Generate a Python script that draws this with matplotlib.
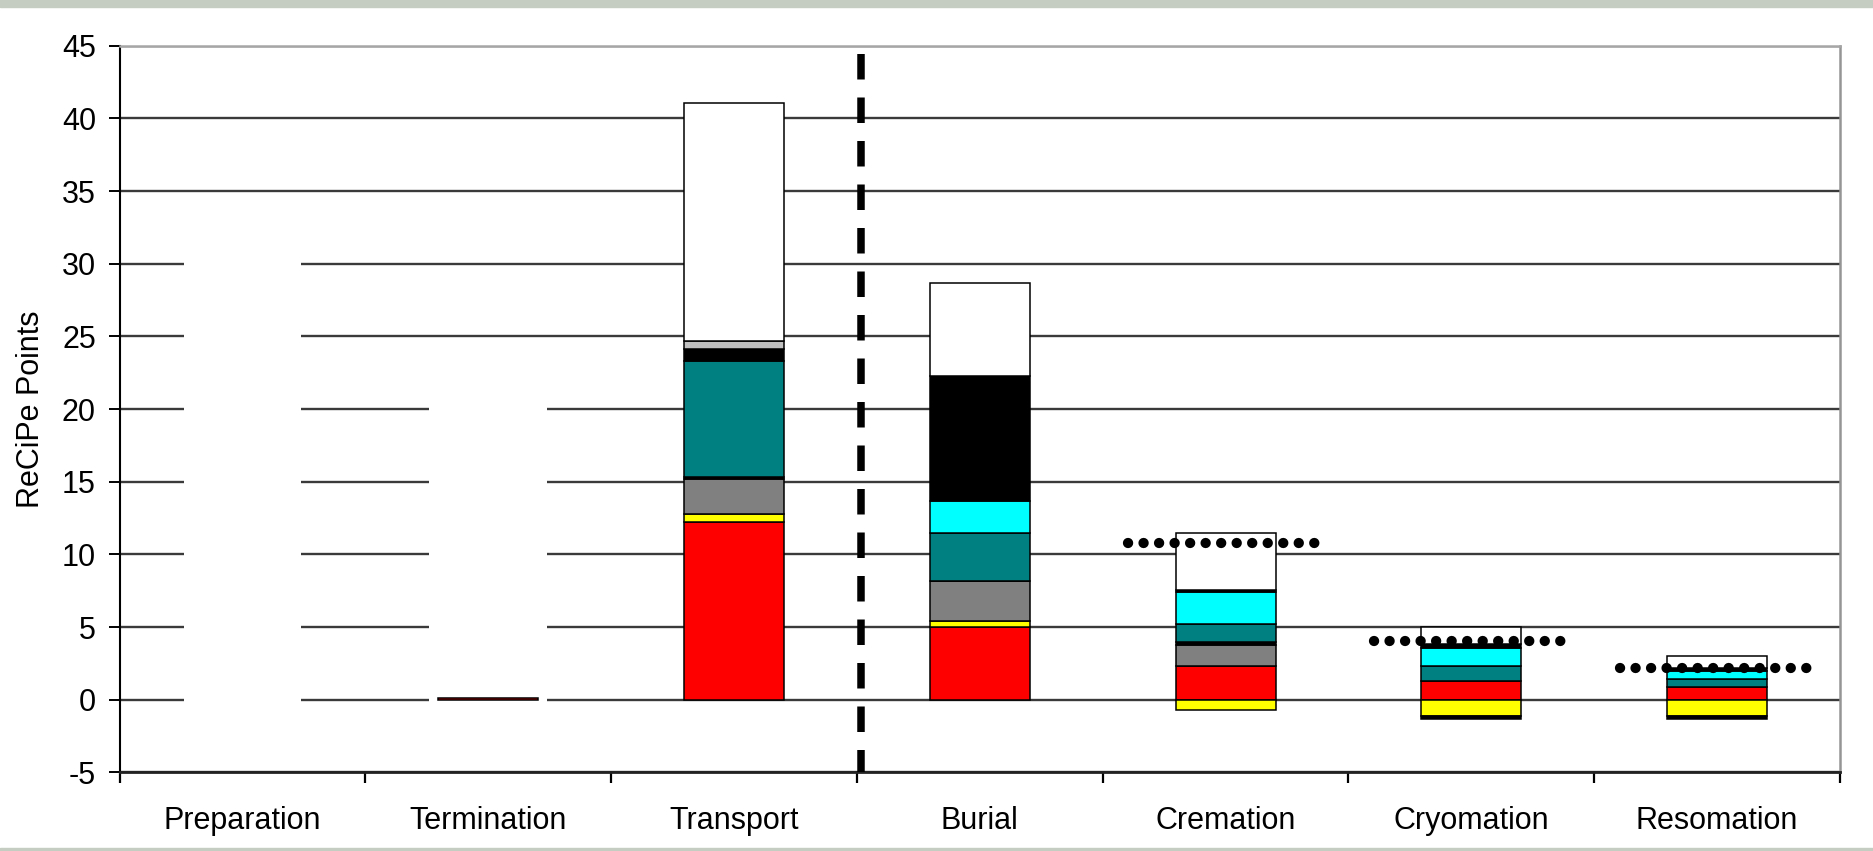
import numpy as np
import matplotlib
matplotlib.use("Agg")
import matplotlib.pyplot as plt
from matplotlib.patches import Rectangle

plt.rcParams['font.family'] = ['Liberation Sans', 'DejaVu Sans']
plt.rcParams['axes.unicode_minus'] = False

# -------------- DADOS --------------
categorias = ['Preparation', 'Termination', 'Transport', 'Burial',
              'Cremation', 'Cryomation', 'Resomation']

# segmentos empilhados (de baixo para cima), ReCiPe points
vermelho = [0, 0.15, 12.2, 5.0, 2.3, 1.3, 0.9]
amarelo = [0, 0, 0.6, 0.4, -0.7, -1.1, -1.1]
cinza = [0, 0, 2.4, 2.75, 1.45, 0, 0]
preto_fino = [0, 0, 0.1, 0.05, 0.2, 0, 0]
verde_azulado = [0, 0, 8.0, 3.3, 1.25, 1.0, 0.5]
ciano = [0, 0, 0, 2.2, 2.2, 1.25, 0.6]
preto = [0, 0, 0.85, 8.6, 0.15, 0.3, 0.15]
cinza_claro = [0, 0, 0.5, 0, 0, 0, 0]
branco = [0, 0, 16.4, 6.35, 3.95, 1.15, 0.85]
preto_negativo = [0, 0, 0, 0, 0, -0.2, -0.2]

# linhas pontilhadas (referência) por categoria
nivel_pontilhado = [np.nan, np.nan, np.nan, np.nan, 10.8, 4.05, 2.2]

# caixas brancas que cobrem a grade em Preparation / Termination
mascara_altura = [33.0, 23.0, 0, 0, 0, 0, 0]

series = [
    (vermelho, '#FF0000'),
    (amarelo, '#FFFF00'),
    (cinza, '#808080'),
    (preto_fino, '#000000'),
    (verde_azulado, '#008080'),
    (ciano, '#00FFFF'),
    (preto, '#000000'),
    (cinza_claro, '#C0C0C0'),
    (branco, '#FFFFFF'),
    (preto_negativo, '#000000'),
]

# -------------- FIGURA --------------
W, H = 1874, 851
fig = plt.figure(figsize=(W / 100, H / 100), dpi=100)
ax = fig.add_axes([119.6 / W, 1 - 772.4 / H, (1840 - 119.6) / W, (772.4 - 45.7) / H])

x = np.arange(len(categorias))
largura = 0.407

# mascaras brancas
ax.bar(x, mascara_altura, width=0.48, bottom=-0.5, color='white',
       edgecolor='none', zorder=0.8)

base_pos = np.zeros(len(categorias))
base_neg = np.zeros(len(categorias))
for valores, cor in series:
    v = np.array(valores, dtype=float)
    base = np.where(v >= 0, base_pos, base_neg)
    barras = ax.bar(x, v, width=largura, bottom=base, color=cor,
                    edgecolor='black', linewidth=1.1, zorder=2)
    for b, val in zip(barras, v):
        if val == 0:
            b.set_visible(False)
    base_pos = base_pos + np.where(v > 0, v, 0)
    base_neg = base_neg + np.where(v < 0, v, 0)

# linhas pontilhadas
niv = np.array(nivel_pontilhado)
ok = ~np.isnan(niv)
pont = ax.hlines(niv[ok], x[ok] - 0.397, x[ok] + 0.397, colors='black',
                 linewidth=7.4, linestyles=[(0, (0.01, 1.5))], zorder=6)
pont.set_capstyle('round')

# linha tracejada vertical separando as fases
ax.plot([2.516, 2.516], [44.4, -5], color='black', linewidth=5.4,
        linestyle=(0, (3.4, 2.4)), dash_capstyle='butt', zorder=5,
        clip_on=False)

# eixos
ax.set_xlim(-0.5, 6.5)
ax.set_ylim(-5, 45)
ax.set_yticks(np.arange(-5, 46, 5))
ax.set_xticks(x)
ax.set_xticklabels(categorias)
ax.set_xticks(np.arange(-0.5, 7, 1), minor=True)

ax.set_axisbelow(True)
ax.yaxis.grid(True, color='#3a3a3a', linewidth=1.7)
for t in ax.yaxis.get_major_ticks():
    if t.get_loc() in (-5, 45):
        t.gridline.set_visible(False)

ax.tick_params(axis='y', direction='out', length=8, width=1.4, pad=9,
               labelsize=22, colors='black')
ax.tick_params(axis='x', which='major', length=0, pad=24, labelsize=22)
ax.tick_params(axis='x', which='minor', direction='out', length=8, width=1.6)

ax.spines['left'].set_color('black')
ax.spines['left'].set_linewidth(1.5)
ax.spines['bottom'].set_color('#222222')
ax.spines['bottom'].set_linewidth(2.0)
ax.spines['top'].set_color('#a6a6a6')
ax.spines['top'].set_linewidth(1.8)
ax.spines['right'].set_color('#959595')
ax.spines['right'].set_linewidth(1.8)

fig.text(31 / W, 1 - 409 / H, 'ReCiPe Points', rotation=90, ha='center',
         va='center', fontsize=22)

# faixas texturizadas do slide (topo e base)
fig.patches.append(Rectangle((0, 1 - 7 / H), 1, 7 / H, transform=fig.transFigure,
                             color='#c5cdc2', zorder=0))
fig.patches.append(Rectangle((0, 0), 1, 3 / H, transform=fig.transFigure,
                             color='#c5cdc2', zorder=0))

fig.savefig('out.png', dpi=100)
